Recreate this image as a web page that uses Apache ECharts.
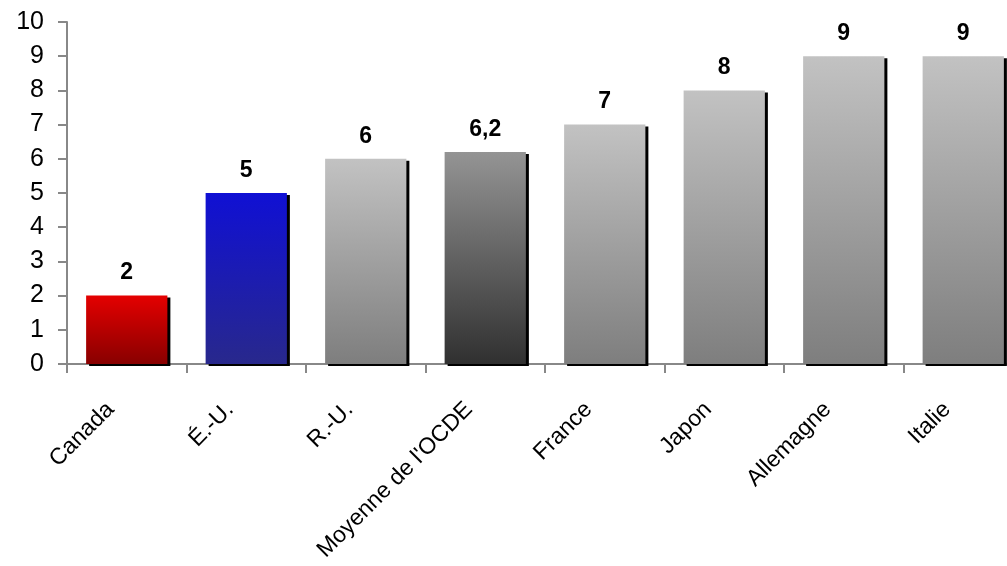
<!DOCTYPE html>
<html><head><meta charset="utf-8">
<script src="https://cdn.jsdelivr.net/npm/echarts@6/dist/echarts.min.js"></script>
<style>html,body{margin:0;padding:0;background:#fff}#c{width:1007px;height:566px}</style>
</head><body><div id="c"></div>
<script>
const categories = ["Canada", "É.-U.", "R.-U.", "Moyenne de l'OCDE", "France", "Japon", "Allemagne", "Italie"];
const values = [2, 5, 6, 6.2, 7, 8, 9, 9];
const labels = ["2", "5", "6", "6,2", "7", "8", "9", "9"];
const yTicks = [0, 1, 2, 3, 4, 5, 6, 7, 8, 9, 10];

const FONT = "'Liberation Sans Narrow', 'Arial Narrow', 'Liberation Sans', Arial, sans-serif";
function grad(top, bottom) {
  return new echarts.graphic.LinearGradient(0, 0, 0, 1, [{offset: 0, color: top}, {offset: 1, color: bottom}]);
}
const gradients = {
  "Canada": grad('#e40000', '#880000'),
  "É.-U.": grad('#1010d4', '#28288c'),
  "Moyenne de l'OCDE": grad('#949494', '#303030')
};
const data = categories.map((c, i) => ({
  value: values[i],
  itemStyle: {color: gradients[c] || grad('#c2c2c2', '#7e7e7e')},
  label: {formatter: labels[i]}
}));

const XFS = 23;
const chart = echarts.init(document.getElementById('c'));
chart.setOption({
  animation: false,
  grid: {left: 67, top: 22, bottom: 202, width: 956, containLabel: false, outerBoundsMode: 'none'},
  xAxis: {
    type: 'category', data: categories,
    axisLine: {lineStyle: {color: '#888', width: 2}},
    axisTick: {show: true, inside: false, length: 9, lineStyle: {color: '#888', width: 2}},
    axisLabel: {rotate: 45, margin: 42, fontFamily: FONT, fontSize: XFS, color: '#000', interval: 0,
      verticalAlign: 'bottom', padding: [0, XFS / 2, 0, 0]}
  },
  yAxis: {
    type: 'value', min: yTicks[0], max: yTicks[yTicks.length - 1], interval: 1,
    splitLine: {show: false},
    axisLine: {show: true, lineStyle: {color: '#888', width: 2}},
    axisTick: {show: true, length: 9, lineStyle: {color: '#888', width: 2}},
    axisLabel: {margin: 23, fontFamily: FONT, fontSize: 25, color: '#000'}
  },
  series: [{
    type: 'bar', data: data, barWidth: '68%',
    itemStyle: {shadowColor: '#000', shadowOffsetX: 3, shadowOffsetY: 2, shadowBlur: 0},
    label: {show: true, position: 'top', distance: 11, fontFamily: FONT, fontWeight: 'bold', fontSize: 23, color: '#000'}
  }]
});
</script></body></html>
